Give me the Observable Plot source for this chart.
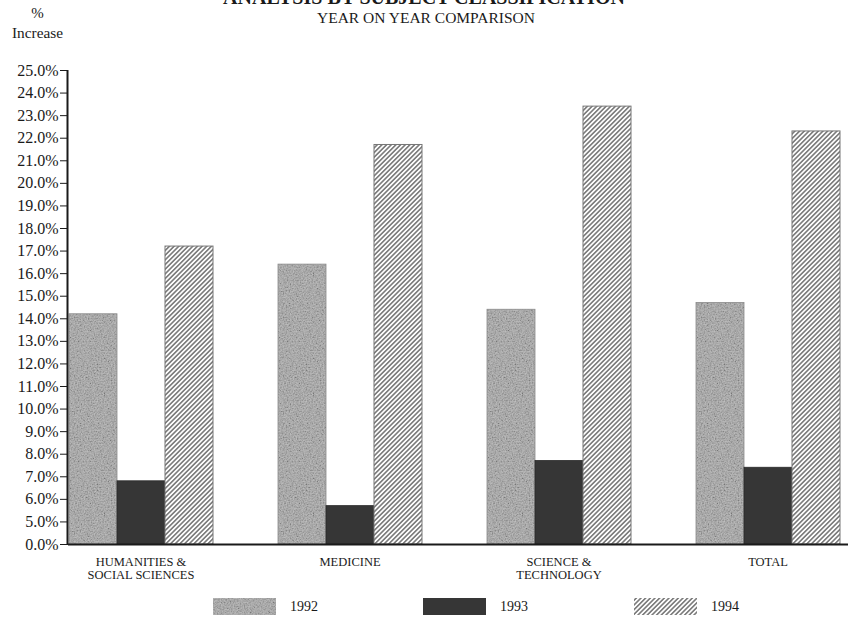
<!DOCTYPE html>
<html><head><meta charset="utf-8">
<script src="https://cdn.jsdelivr.net/npm/d3@7"></script>
<script src="https://cdn.jsdelivr.net/npm/@observablehq/plot@0.6"></script>
<style>
body{margin:0;background:#fff;}
#wrap{position:relative;width:848px;height:617px;overflow:hidden;font-family:"Liberation Serif","Times New Roman",serif;color:#1a1a1a;}
.abs{position:absolute;white-space:nowrap;line-height:1;}
.layer{position:absolute;left:0;top:40px;}
</style></head><body>
<div id="wrap">
<svg width="0" height="0" style="position:absolute;left:0;top:0">
  <defs>
    <filter id="grain" x="0" y="0" width="100%" height="100%">
      <feTurbulence type="fractalNoise" baseFrequency="0.7" numOctaves="3" seed="5" result="n"/>
      <feColorMatrix in="n" type="matrix" values="1.3 0 0 0 -0.25  1.3 0 0 0 -0.25  1.3 0 0 0 -0.25  0 0 0 0 0.3"/>
    </filter>
    <pattern id="gray92" patternUnits="userSpaceOnUse" width="120" height="120">
      <rect width="120" height="120" fill="#a9a9a9"/>
      <rect width="120" height="120" filter="url(#grain)"/>
    </pattern>
    <pattern id="hatch94" patternUnits="userSpaceOnUse" width="3.3" height="3.3" patternTransform="rotate(45)">
      <rect width="3.3" height="3.3" fill="#fff"/>
      <line x1="1.65" y1="-1" x2="1.65" y2="4.3" stroke="#3c3c3c" stroke-width="1.1"/>
    </pattern>
  </defs>
</svg>
<div class="abs" id="title" style="left:0;width:848px;text-align:center;top:-12.7px;font-size:20px;font-weight:bold;">ANALYSIS BY SUBJECT CLASSIFICATION</div>
<div class="abs" id="subtitle" style="left:2px;width:848px;text-align:center;top:10px;font-size:15.5px;">YEAR ON YEAR COMPARISON</div>
<div class="abs" style="left:0;width:75px;text-align:center;top:5.5px;font-size:15px;">%</div>
<div class="abs" style="left:0;width:75px;text-align:center;top:25.2px;font-size:15.3px;">Increase</div>
<div class="layer" id="bars"></div>
<div class="layer" id="axes"></div>
<div id="legend"></div>
</div>
<script>
// ---- data ----
const categories = ["HUMANITIES & SOCIAL SCIENCES", "MEDICINE", "SCIENCE & TECHNOLOGY", "TOTAL"];
const categoryLabels = ["HUMANITIES &\nSOCIAL SCIENCES", "MEDICINE", "SCIENCE &\nTECHNOLOGY", "TOTAL"];
const years = ["1992", "1993", "1994"];
const values1992 = [14.2, 16.4, 14.4, 14.7];
const values1993 = [6.8, 5.7, 7.7, 7.4];
const values1994 = [17.2, 21.7, 23.4, 22.3];
// broken axis: "0.0%" is drawn one step below "5.0%"
const yTickValues = [4, 5, 6, 7, 8, 9, 10, 11, 12, 13, 14, 15, 16, 17, 18, 19, 20, 21, 22, 23, 24, 25];
const yTickLabels = ["0.0%", "5.0%", "6.0%", "7.0%", "8.0%", "9.0%", "10.0%", "11.0%", "12.0%", "13.0%", "14.0%",
  "15.0%", "16.0%", "17.0%", "18.0%", "19.0%", "20.0%", "21.0%", "22.0%", "23.0%", "24.0%", "25.0%"];

const seriesValues = [values1992, values1993, values1994];
const rows = categories.flatMap((c, i) => years.map((y, j) => ({category: c, year: y, value: seriesValues[j][i]})));
const yDomain = [yTickValues[0], yTickValues[yTickValues.length - 1]];
const base = yTickValues[0];

const yearStyles = {
  "1992": {fill: "url(#gray92)", stroke: "#8a8a8a", strokeWidth: 0.8},
  "1993": {fill: "#363636", stroke: "#2a2a2a", strokeWidth: 0.8},
  "1994": {fill: "url(#hatch94)", stroke: "#777", strokeWidth: 1}
};
const FONT = '"Liberation Serif", "Times New Roman", serif';
const dims = {width: 848, height: 545, marginTop: 30, marginBottom: 41, marginLeft: 68};

const barsPlot = Plot.plot({
  ...dims,
  marginRight: 8,
  style: {fontFamily: FONT, fontSize: "12.5px", color: "#1a1a1a", background: "transparent"},
  fx: {domain: categories, paddingInner: 0.308, paddingOuter: 0, axis: "bottom", label: null,
       tickSize: 0, tickPadding: 13, tickFormat: c => categoryLabels[categories.indexOf(c)]},
  x: {domain: years, padding: 0, axis: null},
  y: {domain: yDomain, axis: null},
  marks: years.map(yr => Plot.barY(rows.filter(d => d.year === yr), {
    fx: "category", x: "year", y1: () => base, y2: "value", ...yearStyles[yr]
  }))
});
document.getElementById("bars").appendChild(barsPlot);

const axesPlot = Plot.plot({
  ...dims,
  marginRight: 0,
  style: {fontFamily: FONT, fontSize: "16px", color: "#1a1a1a", background: "transparent"},
  x: {domain: [0, 1], axis: null},
  y: {domain: yDomain, axis: "left", ticks: yTickValues, label: null, tickSize: 8, tickPadding: 2,
      tickFormat: d => yTickLabels[yTickValues.indexOf(d)]},
  marks: [
    Plot.ruleY([base], {stroke: "#1a1a1a", strokeWidth: 2.2}),
    Plot.ruleX([0], {y1: () => yDomain[0], y2: () => yDomain[1], stroke: "#1a1a1a", strokeWidth: 2, dx: -1})
  ]
});
document.getElementById("axes").appendChild(axesPlot);

// legend
const legendPos = [213, 423, 634];
const legend = document.getElementById("legend");
years.forEach((yr, j) => {
  const st = yearStyles[yr];
  const sw = document.createElement("div");
  sw.className = "abs";
  sw.style.left = legendPos[j] + "px";
  sw.style.top = "598px";
  sw.innerHTML = `<svg width="63" height="17"><rect x="0" y="0" width="63" height="17" fill="${st.fill}"/></svg>`;
  legend.appendChild(sw);
  const lb = document.createElement("div");
  lb.className = "abs";
  lb.style.left = (legendPos[j] + 77) + "px";
  lb.style.top = "600px";
  lb.style.fontSize = "14px";
  lb.textContent = yr;
  legend.appendChild(lb);
});
</script>
</body></html>
